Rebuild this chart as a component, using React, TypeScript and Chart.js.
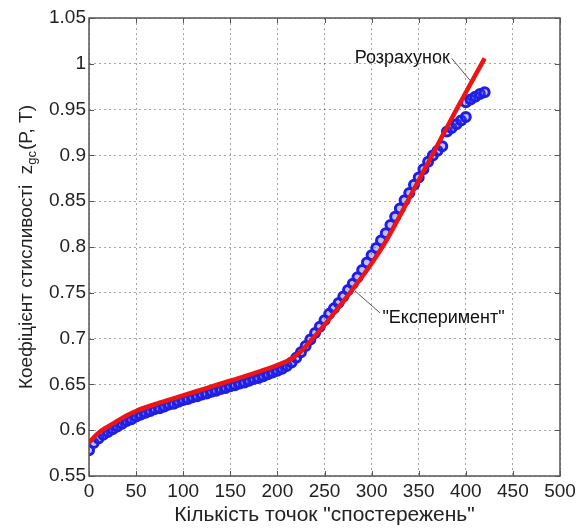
import React, { useEffect, useRef } from "react";
import { Chart, registerables } from "chart.js";

Chart.register(...registerables);

const FONT = '"Liberation Sans", Arial, Helvetica, sans-serif';

// "Розрахунок" (calculated) curve
const redX = [0, 5, 10, 20, 30, 40, 50, 75, 100, 125, 150, 175, 200, 215, 225, 235, 250, 265, 280, 300, 315, 330, 345, 360, 375, 390, 405, 420];
const redY = [0.586, 0.592, 0.597, 0.604, 0.61, 0.616, 0.621, 0.63, 0.638, 0.646, 0.654, 0.662, 0.671, 0.678, 0.686, 0.697, 0.715, 0.734, 0.754, 0.782, 0.806, 0.834, 0.863, 0.892, 0.921, 0.95, 0.978, 1.006];

// "Експеримент" (experimental) observations
const blueX = [0, 5, 10, 15, 20, 25, 30, 35, 40, 45, 50, 55, 60, 65, 70, 75, 80, 85, 90, 95, 100, 105, 110, 115, 120, 125, 130, 135, 140, 145, 150, 155, 160, 165, 170, 175, 180, 185, 190, 195, 200, 205, 210, 215, 220, 225, 230, 235, 240, 245, 250, 255, 260, 265, 270, 275, 280, 285, 290, 295, 300, 305, 310, 315, 320, 325, 330, 335, 340, 345, 350, 355, 360, 365, 370, 375, 380, 385, 390, 395, 400, 400, 405, 410, 415, 420];
const blueY = [0.578, 0.586, 0.591, 0.595, 0.598, 0.601, 0.604, 0.607, 0.61, 0.612, 0.615, 0.617, 0.619, 0.621, 0.623, 0.624, 0.626, 0.628, 0.629, 0.631, 0.633, 0.634, 0.636, 0.637, 0.639, 0.64, 0.642, 0.643, 0.645, 0.646, 0.648, 0.649, 0.651, 0.652, 0.654, 0.656, 0.657, 0.659, 0.661, 0.663, 0.665, 0.667, 0.67, 0.674, 0.679, 0.685, 0.692, 0.699, 0.706, 0.713, 0.72, 0.727, 0.733, 0.739, 0.746, 0.753, 0.76, 0.767, 0.775, 0.783, 0.791, 0.799, 0.807, 0.815, 0.824, 0.833, 0.842, 0.851, 0.859, 0.868, 0.876, 0.885, 0.893, 0.9, 0.905, 0.91, 0.926, 0.93, 0.934, 0.938, 0.942, 0.958, 0.961, 0.964, 0.967, 0.969];

const xTickValues = [0, 50, 100, 150, 200, 250, 300, 350, 400, 450, 500];
const xTickLabels = ["0", "50", "100", "150", "200", "250", "300", "350", "400", "450", "500"];
const yTickValues = [0.55, 0.6, 0.65, 0.7, 0.75, 0.8, 0.85, 0.9, 0.95, 1.0, 1.05];
const yTickLabels = ["0.55", "0.6", "0.65", "0.7", "0.75", "0.8", "0.85", "0.9", "0.95", "1", "1.05"];

const xTitle = 'Кількість точок "спостережень"';
const yTitleMain = "Коефіцієнт стисливості  z";
const yTitleSub = "gc";
const yTitleTail = "(P, T)";

const notes = [
  { text: "Розрахунок", x: 383, y: 1.006, align: "right", from: [385, 1.006], to: [404.5, 0.982] },
  { text: '"Експеримент"', x: 311.5, y: 0.722, align: "left", from: [282.4, 0.752], to: [309, 0.728] },
];

const framePlugin = {
  id: "matlabFrame",
  afterDraw(chart: any) {
    const { ctx, chartArea, scales } = chart;
    const { left, right, top, bottom } = chartArea;
    const xs = scales.x;
    const ys = scales.y;
    ctx.save();
    ctx.strokeStyle = "#555";
    ctx.lineWidth = 1;
    ctx.setLineDash([]);
    ctx.beginPath();
    xTickValues.forEach((v) => {
      const px = Math.round(xs.getPixelForValue(v)) + 0.5;
      ctx.moveTo(px, bottom);
      ctx.lineTo(px, bottom - 5);
      ctx.moveTo(px, top);
      ctx.lineTo(px, top + 5);
    });
    yTickValues.forEach((v) => {
      const py = Math.round(ys.getPixelForValue(v)) + 0.5;
      ctx.moveTo(left, py);
      ctx.lineTo(left + 5, py);
      ctx.moveTo(right, py);
      ctx.lineTo(right - 5, py);
    });
    ctx.stroke();
    ctx.strokeStyle = "#555";
    ctx.lineWidth = 1.5;
    ctx.strokeRect(left, top, right - left, bottom - top);

    ctx.font = `18px ${FONT}`;
    ctx.fillStyle = "#111";
    ctx.textBaseline = "middle";
    notes.forEach((n) => {
      ctx.strokeStyle = "#555";
      ctx.lineWidth = 1;
      ctx.beginPath();
      ctx.moveTo(xs.getPixelForValue(n.from[0]), ys.getPixelForValue(n.from[1]));
      ctx.lineTo(xs.getPixelForValue(n.to[0]), ys.getPixelForValue(n.to[1]));
      ctx.stroke();
      ctx.textAlign = n.align as CanvasTextAlign;
      ctx.fillText(n.text, xs.getPixelForValue(n.x), ys.getPixelForValue(n.y));
    });

    const mainFont = `19px ${FONT}`;
    const subFont = `13px ${FONT}`;
    ctx.font = mainFont;
    const w1 = ctx.measureText(yTitleMain).width;
    const w3 = ctx.measureText(yTitleTail).width;
    ctx.font = subFont;
    const w2 = ctx.measureText(yTitleSub).width;
    const total = w1 + w2 + w3 + 1;
    ctx.translate(32, (top + bottom) / 2);
    ctx.rotate(-Math.PI / 2);
    ctx.textAlign = "left";
    ctx.textBaseline = "alphabetic";
    ctx.fillStyle = "#222";
    ctx.font = mainFont;
    ctx.fillText(yTitleMain, -total / 2, 0);
    ctx.font = subFont;
    ctx.fillText(yTitleSub, -total / 2 + w1, 4);
    ctx.font = mainFont;
    ctx.fillText(yTitleTail, -total / 2 + w1 + w2 + 1, 0);
    ctx.restore();
  },
};

export default function App() {
  const ref = useRef<HTMLCanvasElement | null>(null);
  useEffect(() => {
    if (!ref.current) return;
    const chart = new Chart(ref.current, {
      type: "scatter",
      data: {
        datasets: [
          {
            label: "Розрахунок",
            data: redX.map((x, i) => ({ x, y: redY[i] })),
            showLine: true,
            borderColor: "#ee1414",
            backgroundColor: "#ee1414",
            borderWidth: 4.5,
            pointRadius: 0,
            cubicInterpolationMode: "monotone",
            order: 1,
          } as any,
          {
            label: "Експеримент",
            data: blueX.map((x, i) => ({ x, y: blueY[i] })),
            showLine: false,
            pointStyle: "circle",
            pointRadius: 4.5,
            borderWidth: 3,
            borderColor: "rgb(30,30,230)",
            backgroundColor: "rgba(70,70,235,0.35)",
            order: 2,
          } as any,
        ],
      },
      options: {
        responsive: false,
        animation: false,
        layout: { padding: { left: 0, top: 18, right: 28, bottom: 0 } },
        plugins: { legend: { display: false }, tooltip: { enabled: false } },
        scales: {
          x: {
            type: "linear",
            min: 0,
            max: 500,
            afterBuildTicks: (s: any) => {
              s.ticks = xTickValues.map((v) => ({ value: v }));
            },
            afterFit: (s: any) => {
              s.height = 55;
            },
            ticks: {
              autoSkip: false,
              maxRotation: 0,
              padding: 4,
              color: "#222",
              font: { family: FONT, size: 19 },
              callback: (_v: any, i: number) => xTickLabels[i],
            },
            grid: { color: "rgba(0,0,0,0.35)", drawTicks: false, lineWidth: 1 },
            border: { display: false, dash: [2, 3] },
            title: {
              display: true,
              text: xTitle,
              color: "#222",
              font: { family: FONT, size: 21 },
              padding: { top: 0, bottom: 3 },
            },
          },
          y: {
            type: "linear",
            min: 0.55,
            max: 1.05,
            afterBuildTicks: (s: any) => {
              s.ticks = yTickValues.map((v) => ({ value: v }));
            },
            afterFit: (s: any) => {
              s.width = 89;
            },
            ticks: {
              autoSkip: false,
              padding: 3,
              color: "#222",
              font: { family: FONT, size: 19 },
              callback: (_v: any, i: number) => yTickLabels[i],
            },
            grid: { color: "rgba(0,0,0,0.35)", drawTicks: false, lineWidth: 1 },
            border: { display: false, dash: [2, 3] },
          },
        },
      } as any,
      plugins: [framePlugin],
    });
    return () => chart.destroy();
  }, []);
  return (
    <div style={{ position: "absolute", left: 0, top: 0, width: 588, height: 531, background: "#fff" }}>
      <canvas ref={ref} width={588} height={531} style={{ display: "block" }} />
    </div>
  );
}
